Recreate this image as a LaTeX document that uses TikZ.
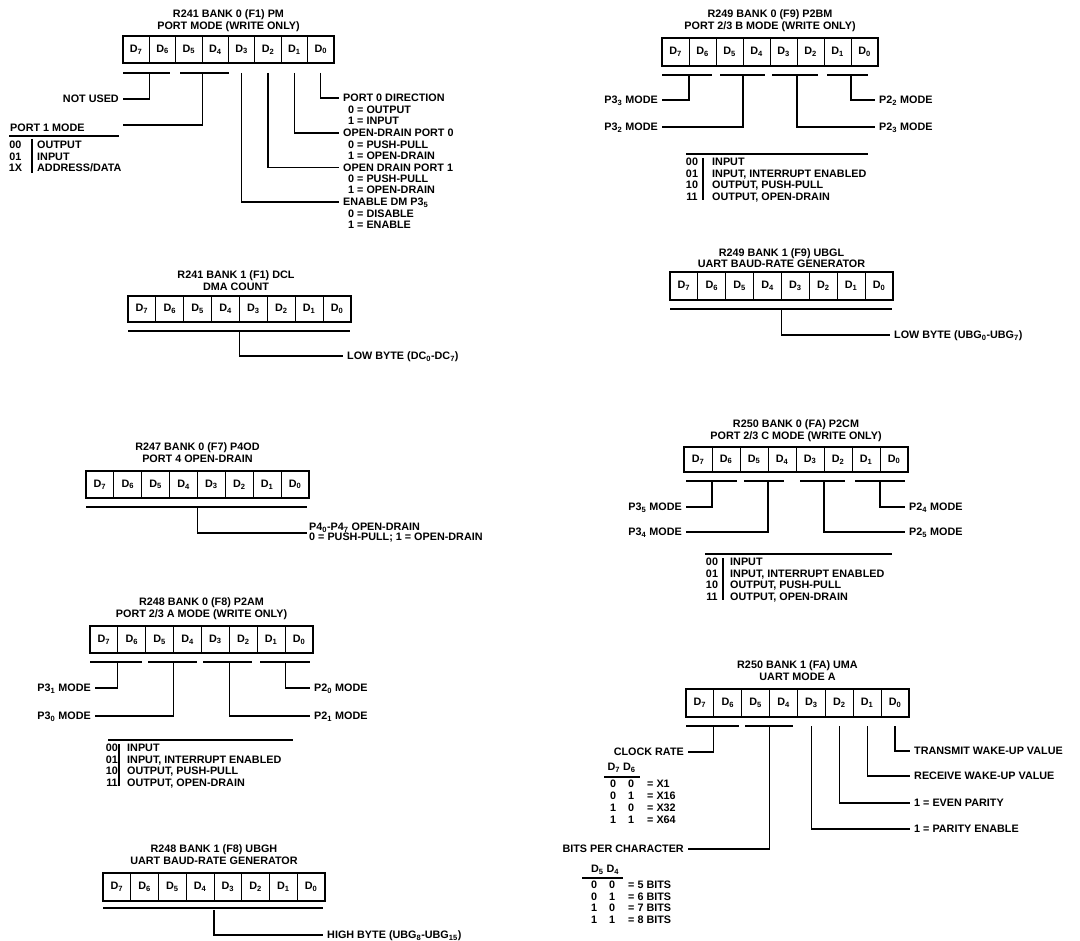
\documentclass[tikz,border=0pt]{standalone}
\usepackage{fontspec}
\setmainfont{Liberation Sans}
\newcommand\lbl{\fontsize{10.8}{12}\selectfont\bfseries}
\tikzset{
  cell/.style={draw, line width=0.8pt, inner sep=0pt, outer sep=0pt, font=\lbl},
  frame/.style={line width=2pt},
  wire/.style={line width=1.2pt},
  bar/.style={line width=1.3pt},
  txt/.style={font=\lbl, inner sep=0pt, text height=7.8pt, text depth=0pt},
  ttl/.style={txt, anchor=center},
  rowW/.style={txt, anchor=west},
  rowC/.style={txt, anchor=center},
  labW/.style={txt, anchor=west, inner xsep=4pt},
  labE/.style={txt, anchor=east, inner xsep=4pt},
}
% name, left, top, right, bottom
\newcommand\regcells[5]{%
  \foreach \i in {7,6,...,0} {
    \node[cell, minimum width={(#4-#2)/8*1pt}, minimum height={(#5-#3)*1pt}]
      (#1-\i) at ({#2+(7.5-\i)*(#4-#2)/8}, {(#3+#5)/2}) {D\textsubscript{\i}};
  }
  \draw[frame] (#1-7.north west) rectangle (#1-0.south east);
}
% name, rule left, rule right, rule y, code x, separator x, text x
\newcommand\modetab[7]{%
  \draw[bar] (#2,#4) -- (#3,#4);
  \draw[wire] (#6,#4+4) -- (#6,#4+46);
  \foreach \cd/\tx [count=\k] in {00/INPUT, 01/{INPUT, INTERRUPT ENABLED}, 10/{OUTPUT, PUSH-PULL}, 11/{OUTPUT, OPEN-DRAIN}} {
    \node[rowC] (#1-c\k) at (#5, {#4+8+(\k-1)*11.4}) {\cd};
    \node[rowW] (#1-x\k) at (#7, {#4+8+(\k-1)*11.4}) {\tx};
  }
}
\begin{document}
\begin{tikzpicture}[x=1pt,y=-1pt]
\useasboundingbox[fill=white] (0,0) rectangle (1080,941);

% ---------- R241 BANK 0 PM ----------
\regcells{ra}{123}{36}{334}{63}
\node[ttl] (ra-t1) at (228.5,14) {R241 BANK 0 (F1) PM};
\node[ttl] (ra-t2) at (228.5,25.5) {PORT MODE (WRITE ONLY)};
\draw[bar] (123,73) -- (170,73);
\draw[bar] (180,73) -- (229,73);
\coordinate (ra-k76) at ([yshift=-10pt]ra-7.south east);
\coordinate (ra-k54) at ([yshift=-10pt]ra-5.south east);
\coordinate (ra-k3) at ([yshift=-10pt]ra-3.south);
\coordinate (ra-k2) at ([yshift=-10pt]ra-2.south);
\coordinate (ra-k1) at ([yshift=-10pt]ra-1.south);
\coordinate (ra-k0) at ([yshift=-10pt]ra-0.south);
\node[labE] (ra-nu) at (123,99) {NOT USED};
\draw[wire] (ra-k76) |- (ra-nu.east);
\coordinate (ra-p1end) at (123,125);
\draw[wire] (ra-k54) |- (ra-p1end);
\node[rowW] (ra-p1) at (10,128) {PORT 1 MODE};
\draw[bar] (9,136) -- (119,136);
\draw[wire] (32,139) -- (32,173);
\foreach \cd [count=\k] in {00, 01, 1X} {
  \node[rowC] (ra-pc\k) at (15.5, {145+(\k-1)*11.5}) {\cd};
}
\node[rowW] (ra-px1) at (37,145) {OUTPUT};
\node[rowW] (ra-px2) at (37,156.5) {INPUT};
\node[rowW] (ra-px3) at (37,168) {ADDRESS/DATA};
\node[labW] (ra-l0) at (339,98) {PORT 0 DIRECTION};
\node[rowW] (ra-l0a) at (348,109.3) {0 = OUTPUT};
\node[rowW] (ra-l0b) at (348,120.6) {1 = INPUT};
\node[labW] (ra-l1) at (339,133) {OPEN-DRAIN PORT 0};
\node[rowW] (ra-l1a) at (348,144.3) {0 = PUSH-PULL};
\node[rowW] (ra-l1b) at (348,155.6) {1 = OPEN-DRAIN};
\node[labW] (ra-l2) at (339,167.5) {OPEN DRAIN PORT 1};
\node[rowW] (ra-l2a) at (348,178.8) {0 = PUSH-PULL};
\node[rowW] (ra-l2b) at (348,190.1) {1 = OPEN-DRAIN};
\node[labW] (ra-l3) at (339,202) {ENABLE DM P3\textsubscript{5}};
\node[rowW] (ra-l3a) at (348,213.5) {0 = DISABLE};
\node[rowW] (ra-l3b) at (348,225) {1 = ENABLE};
\draw[wire] (ra-k0) |- (ra-l0.west);
\draw[wire] (ra-k1) |- (ra-l1.west);
\draw[wire] (ra-k2) |- (ra-l2.west);
\draw[wire] (ra-k3) |- (ra-l3.west);

% ---------- R249 BANK 0 P2BM ----------
\regcells{rb}{662}{38}{878}{66}
\node[ttl] (rb-t1) at (770,14) {R249 BANK 0 (F9) P2BM};
\node[ttl] (rb-t2) at (770,25.5) {PORT 2/3 B MODE (WRITE ONLY)};
\draw[bar] (662,75) -- (712,75);
\draw[bar] (720,75) -- (765,75);
\draw[bar] (772,75) -- (818,75);
\draw[bar] (827,75) -- (868,75);
\coordinate (rb-k76) at ([yshift=-9pt]rb-7.south east);
\coordinate (rb-k54) at ([yshift=-9pt]rb-5.south east);
\coordinate (rb-k32) at ([yshift=-9pt]rb-3.south east);
\coordinate (rb-k10) at ([yshift=-9pt]rb-1.south east);
\node[labE] (rb-l33) at (662,100) {P3\textsubscript{3} MODE};
\node[labE] (rb-l32) at (662,127) {P3\textsubscript{2} MODE};
\node[labW] (rb-l23) at (875,127) {P2\textsubscript{3} MODE};
\node[labW] (rb-l22) at (875,100) {P2\textsubscript{2} MODE};
\draw[wire] (rb-k76) |- (rb-l33.east);
\draw[wire] (rb-k54) |- (rb-l32.east);
\draw[wire] (rb-k32) |- (rb-l23.west);
\draw[wire] (rb-k10) |- (rb-l22.west);
\modetab{rb}{686}{868}{154}{692}{703}{712}

% ---------- R241 BANK 1 DCL ----------
\regcells{rc}{128}{296}{351}{322}
\node[ttl] (rc-t1) at (236,275) {R241 BANK 1 (F1) DCL};
\node[ttl] (rc-t2) at (236,286.5) {DMA COUNT};
\draw[bar] (128,331) -- (350,331);
\coordinate (rc-k) at ([yshift=-9pt]rc-4.south east);
\node[labW] (rc-l) at (343,356) {LOW BYTE (DC\textsubscript{0}-DC\textsubscript{7})};
\draw[wire] (rc-k) |- (rc-l.west);

% ---------- R249 BANK 1 UBGL ----------
\regcells{rd}{670}{272}{893}{300}
\node[ttl] (rd-t1) at (781.5,252.5) {R249 BANK 1 (F9) UBGL};
\node[ttl] (rd-t2) at (781.5,264) {UART BAUD-RATE GENERATOR};
\draw[bar] (670,309) -- (892,309);
\coordinate (rd-k) at ([yshift=-9pt]rd-4.south east);
\node[labW] (rd-l) at (890,335) {LOW BYTE (UBG\textsubscript{0}-UBG\textsubscript{7})};
\draw[wire] (rd-k) |- (rd-l.west);

% ---------- R247 BANK 0 P4OD ----------
\regcells{re}{86}{471}{309}{498}
\node[ttl] (re-t1) at (197.5,447) {R247 BANK 0 (F7) P4OD};
\node[ttl] (re-t2) at (197.5,458.5) {PORT 4 OPEN-DRAIN};
\draw[bar] (86,507) -- (307,507);
\coordinate (re-k) at ([yshift=-9pt]re-4.south east);
\node[anchor=west, align=left, inner xsep=2pt, inner ysep=0pt,
      font=\fontsize{10.8}{10}\selectfont\bfseries] (re-l) at (307,533)
  {P4\textsubscript{0}-P4\textsubscript{7} OPEN-DRAIN\\0 = PUSH-PULL; 1 = OPEN-DRAIN};
\draw[wire] (re-k) |- (re-l.west);

% ---------- R250 BANK 0 P2CM ----------
\regcells{rf}{684}{447}{908}{472}
\node[ttl] (rf-t1) at (796,424) {R250 BANK 0 (FA) P2CM};
\node[ttl] (rf-t2) at (796,435.5) {PORT 2/3 C MODE (WRITE ONLY)};
\draw[bar] (686,481) -- (737,481);
\draw[bar] (744,481) -- (784,481);
\draw[bar] (800,481) -- (845,481);
\draw[bar] (855,481) -- (905,481);
\coordinate (rf-k76) at ([yshift=-9pt]rf-7.south east);
\coordinate (rf-k54) at ([yshift=-9pt]rf-5.south east);
\coordinate (rf-k32) at ([yshift=-9pt]rf-3.south east);
\coordinate (rf-k10) at ([yshift=-9pt]rf-1.south east);
\node[labE] (rf-l35) at (686,507) {P3\textsubscript{5} MODE};
\node[labE] (rf-l34) at (686,532) {P3\textsubscript{4} MODE};
\node[labW] (rf-l25) at (905,532) {P2\textsubscript{5} MODE};
\node[labW] (rf-l24) at (905,507) {P2\textsubscript{4} MODE};
\draw[wire] (rf-k76) |- (rf-l35.east);
\draw[wire] (rf-k54) |- (rf-l34.east);
\draw[wire] (rf-k32) |- (rf-l25.west);
\draw[wire] (rf-k10) |- (rf-l24.west);
\modetab{rf}{705}{892}{554}{712}{723}{730}

% ---------- R248 BANK 0 P2AM ----------
\regcells{rg}{90}{626}{313}{653}
\node[ttl] (rg-t1) at (201.5,602) {R248 BANK 0 (F8) P2AM};
\node[ttl] (rg-t2) at (201.5,613.5) {PORT 2/3 A MODE (WRITE ONLY)};
\draw[bar] (90,662) -- (142,662);
\draw[bar] (148,662) -- (197,662);
\draw[bar] (203,662) -- (252,662);
\draw[bar] (260,662) -- (310,662);
\coordinate (rg-k76) at ([yshift=-9pt]rg-7.south east);
\coordinate (rg-k54) at ([yshift=-9pt]rg-5.south east);
\coordinate (rg-k32) at ([yshift=-9pt]rg-3.south east);
\coordinate (rg-k10) at ([yshift=-9pt]rg-1.south east);
\node[labE] (rg-l31) at (95,688) {P3\textsubscript{1} MODE};
\node[labE] (rg-l30) at (95,716) {P3\textsubscript{0} MODE};
\node[labW] (rg-l21) at (310,716) {P2\textsubscript{1} MODE};
\node[labW] (rg-l20) at (310,688) {P2\textsubscript{0} MODE};
\draw[wire] (rg-k76) |- (rg-l31.east);
\draw[wire] (rg-k54) |- (rg-l30.east);
\draw[wire] (rg-k32) |- (rg-l21.west);
\draw[wire] (rg-k10) |- (rg-l20.west);
\modetab{rg}{108}{293}{740}{112}{119}{127}

% ---------- R250 BANK 1 UMA ----------
\regcells{rh}{686}{689}{909}{717}
\node[ttl] (rh-t1) at (797.5,665) {R250 BANK 1 (FA) UMA};
\node[ttl] (rh-t2) at (797.5,677) {UART MODE A};
\draw[bar] (686,726) -- (739,726);
\draw[bar] (745,726) -- (793,726);
\coordinate (rh-k76) at ([yshift=-9pt]rh-7.south east);
\coordinate (rh-k54) at ([yshift=-9pt]rh-5.south east);
\coordinate (rh-k3) at ([yshift=-9pt]rh-3.south);
\coordinate (rh-k2) at ([yshift=-9pt]rh-2.south);
\coordinate (rh-k1) at ([yshift=-9pt]rh-1.south);
\coordinate (rh-k0) at ([yshift=-9pt]rh-0.south);
\node[labE] (rh-cr) at (688,752) {CLOCK RATE};
\node[labE] (rh-bc) at (688,849) {BITS PER CHARACTER};
\node[labW] (rh-l0) at (910,751) {TRANSMIT WAKE-UP VALUE};
\node[labW] (rh-l1) at (910,776) {RECEIVE WAKE-UP VALUE};
\node[labW] (rh-l2) at (910,803) {1 = EVEN PARITY};
\node[labW] (rh-l3) at (910,829) {1 = PARITY ENABLE};
\draw[wire] (rh-k76) |- (rh-cr.east);
\draw[wire] (rh-k54) |- (rh-bc.east);
\draw[wire] (rh-k0) |- (rh-l0.west);
\draw[wire] (rh-k1) |- (rh-l1.west);
\draw[wire] (rh-k2) |- (rh-l2.west);
\draw[wire] (rh-k3) |- (rh-l3.west);
% clock rate table
\node[rowC] (rh-ch) at (621.5,767) {D\textsubscript{7} D\textsubscript{6}};
\draw[bar] (604,777) -- (640,777);
\foreach \a/\b/\v [count=\k] in {0/0/X1, 0/1/X16, 1/0/X32, 1/1/X64} {
  \node[rowC] (rh-ca\k) at (613, {784+(\k-1)*12}) {\a};
  \node[rowC] (rh-cb\k) at (631, {784+(\k-1)*12}) {\b};
  \node[rowW] (rh-cv\k) at (647, {784+(\k-1)*12}) {= \v};
}
% bits per character table
\node[rowC] (rh-bh) at (605,869) {D\textsubscript{5} D\textsubscript{4}};
\draw[bar] (582,878) -- (623,878);
\foreach \a/\b/\v [count=\k] in {0/0/5, 0/1/6, 1/0/7, 1/1/8} {
  \node[rowC] (rh-ba\k) at (594, {884.5+(\k-1)*11.7}) {\a};
  \node[rowC] (rh-bb\k) at (612, {884.5+(\k-1)*11.7}) {\b};
  \node[rowW] (rh-bv\k) at (628, {884.5+(\k-1)*11.7}) {= \v\ BITS};
}

% ---------- R248 BANK 1 UBGH ----------
\regcells{ri}{103}{873}{325}{901}
\node[ttl] (ri-t1) at (214,849) {R248 BANK 1 (F8) UBGH};
\node[ttl] (ri-t2) at (214,861) {UART BAUD-RATE GENERATOR};
\draw[bar] (103,908) -- (323,908);
\coordinate (ri-k) at ([yshift=-9pt]ri-4.south east);
\node[labW] (ri-l) at (323,935) {HIGH BYTE (UBG\textsubscript{8}-UBG\textsubscript{15})};
\draw[wire] (ri-k) |- (ri-l.west);
\end{tikzpicture}
\end{document}
